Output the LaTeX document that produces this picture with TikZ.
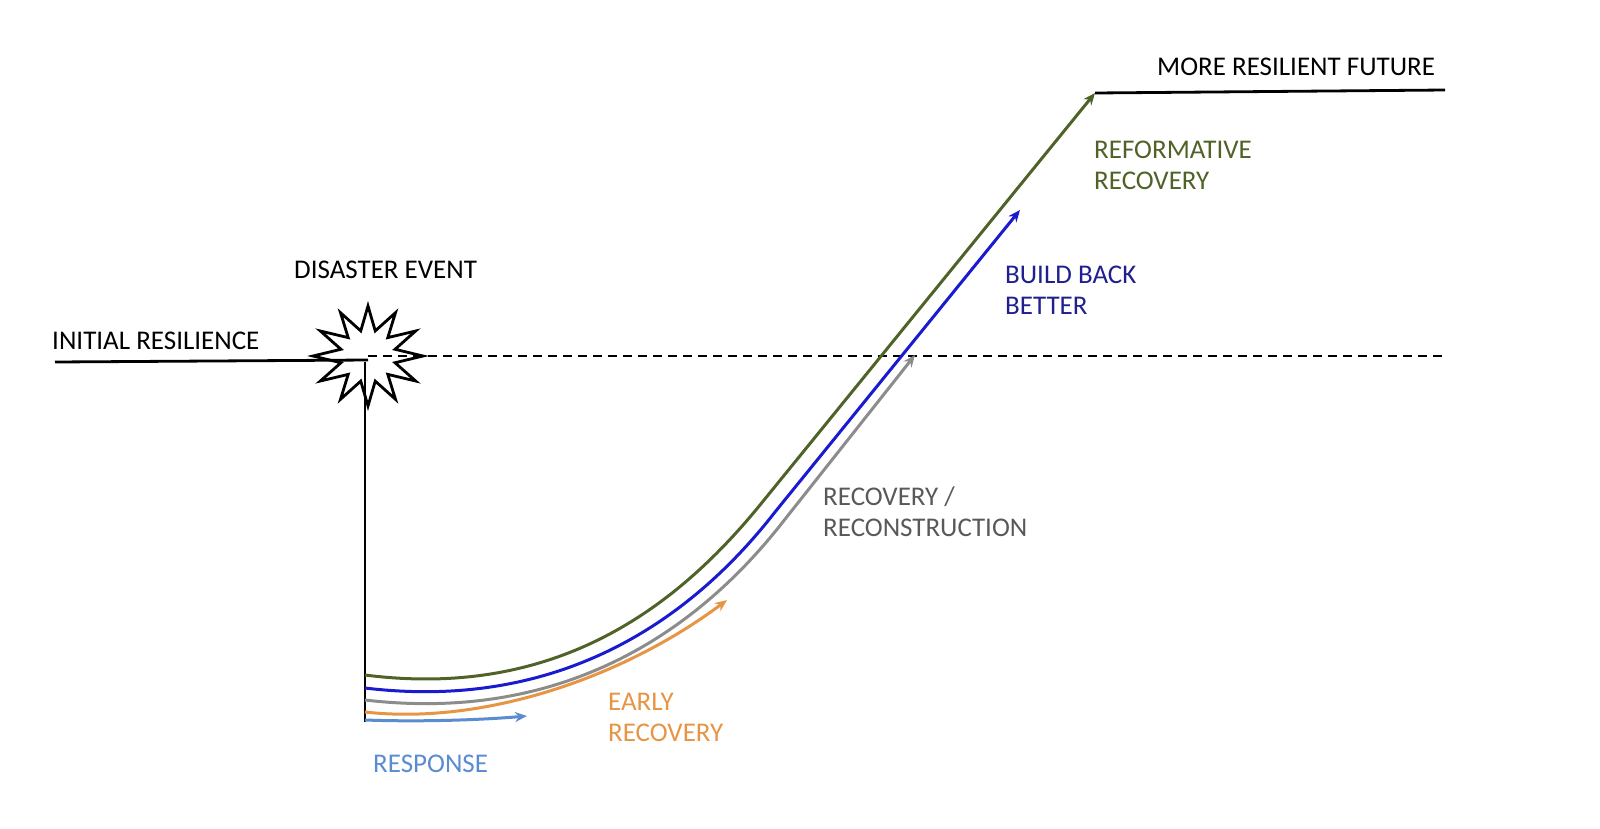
\documentclass[tikz,border=0pt]{standalone}
\usepackage{fontspec}
\setmainfont{Carlito}
\usetikzlibrary{arrows.meta}
\definecolor{olv}{HTML}{4F6228}
\definecolor{bbb}{HTML}{1A1AD0}
\definecolor{bbt}{HTML}{1F1F8F}
\definecolor{gry}{HTML}{8C8C8C}
\definecolor{gryt}{HTML}{595959}
\definecolor{org}{HTML}{E69545}
\definecolor{lbl}{HTML}{5B8BD0}
\begin{document}
\begin{tikzpicture}[x=1pt,y=-1pt,
  lab/.style={anchor=north west,align=left,inner sep=0pt,font=\fontsize{27}{31}\selectfont},
  crv/.style={line width=3pt,-{Stealth[length=12pt,width=10pt,open]}}]
\useasboundingbox (0,0) rectangle (1600,828);
\draw[line width=2.8pt] (55,362) -- (368,360);
\draw[line width=2.2pt,dash pattern=on 9pt off 6pt] (368,356) -- (1445,356);
\draw[line width=2.8pt] (365,362) -- (365,722);
\draw[line width=2.8pt,shift={(368,356)}] plot[samples at={0,15,...,345}] (\x:{mod(round(\x/15),2)==0?55:28} and {mod(round(\x/15),2)==0?50:26}) -- cycle;
\coordinate (g0) at (365,675); \coordinate (g1) at (760,505); \coordinate (g2) at (1095,93);
\draw[crv,olv] (g0) .. controls (560,700) and (680,603) .. (g1) -- (g2);
\draw[line width=2.8pt] (g2) -- (1445,90);
\coordinate (b0) at (365,688); \coordinate (b1) at (775,512); \coordinate (b2) at (1020,210);
\draw[crv,bbb] (b0) .. controls (565,712) and (695,615) .. (b1) -- (b2);
\coordinate (r0) at (365,700); \coordinate (r1) at (782,523); \coordinate (r2) at (915,355);
\draw[crv,gry] (r0) .. controls (570,724) and (702,625) .. (r1) -- (r2);
\coordinate (o0) at (365,712); \coordinate (o1) at (727,600);
\draw[crv,org] (o0) .. controls (480,725) and (620,680) .. (o1);
\coordinate (l0) at (365,720); \coordinate (l1) at (527,716);
\draw[crv,lbl] (l0) .. controls (420,722) and (480,720) .. (l1);
\node[lab] (t1) at (1157,58) {MORE RESILIENT FUTURE};
\node[lab,text=olv] (t2) at (1094,141) {REFORMATIVE\\RECOVERY};
\node[lab,text=bbt] (t3) at (1005,266) {BUILD BACK\\BETTER};
\node[lab] (t4) at (294,261) {DISASTER EVENT};
\node[lab] (t5) at (52,332) {INITIAL RESILIENCE};
\node[lab,text=gryt] (t6) at (823,487) {RECOVERY /\\RECONSTRUCTION};
\node[lab,text=org] (t7) at (608,693) {EARLY\\RECOVERY};
\node[lab,text=lbl] (t8) at (373,755) {RESPONSE};
\end{tikzpicture}
\end{document}
